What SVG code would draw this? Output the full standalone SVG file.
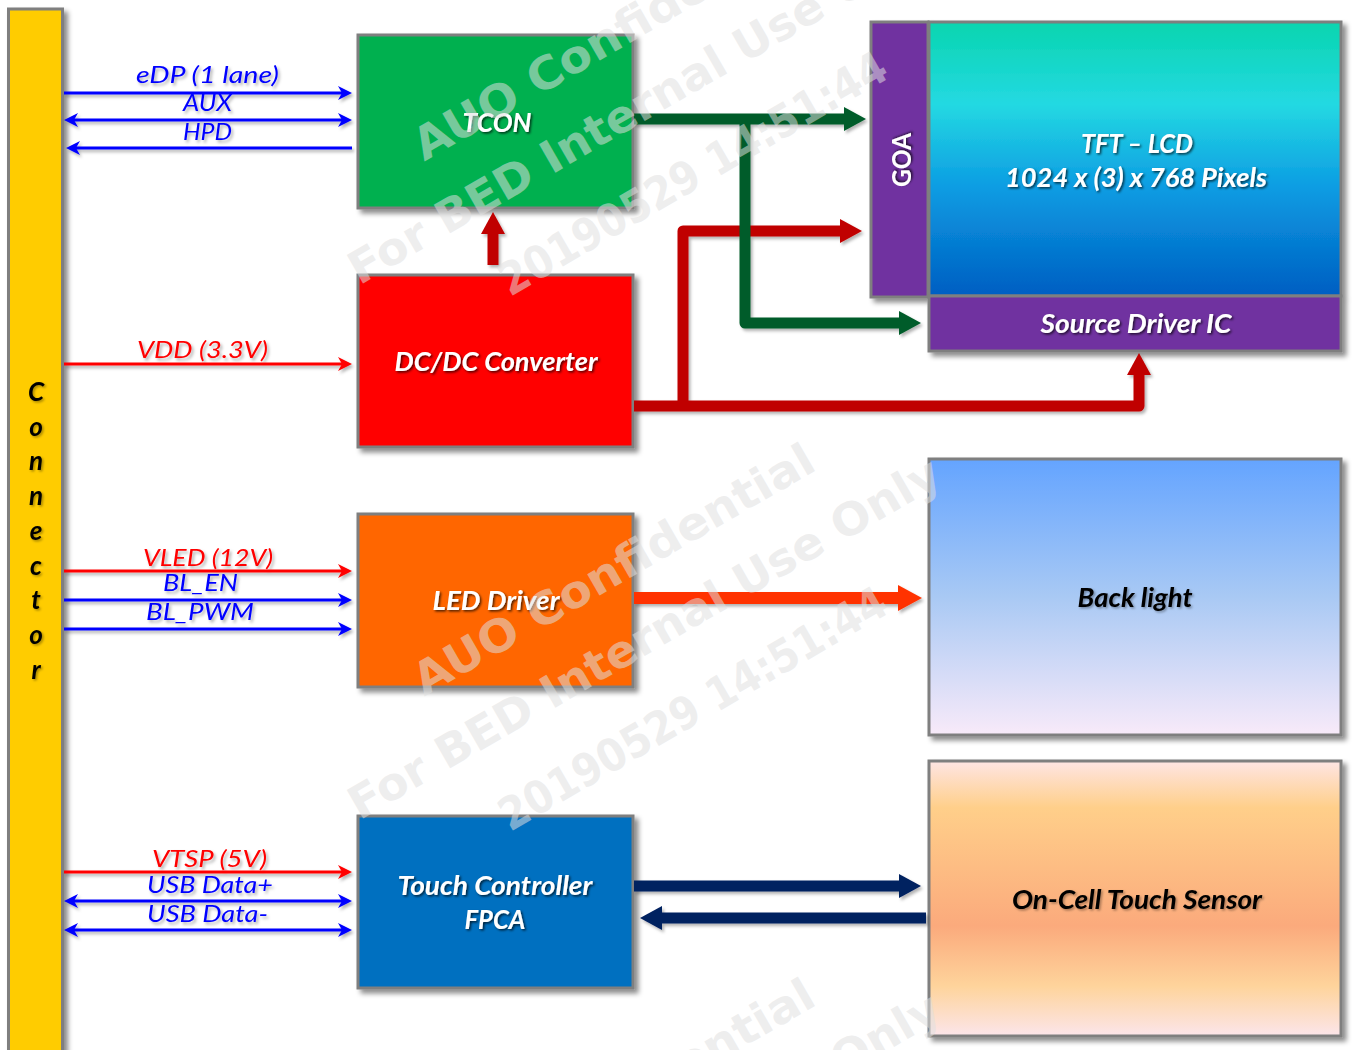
<svg xmlns="http://www.w3.org/2000/svg" width="1355" height="1050" viewBox="0 0 1355 1050">
<style>
.box{stroke:#7F7F7F;stroke-width:3}
.nt{font-family:Lato,"Liberation Sans",sans-serif;font-weight:700;font-style:italic;font-size:26px;fill:#fff;text-anchor:middle}
.bt{font-family:Lato,"Liberation Sans",sans-serif;font-weight:700;font-style:italic;font-size:26px;fill:#000;text-anchor:middle}
.ct{font-family:Lato,"Liberation Sans",sans-serif;font-weight:700;font-style:italic;font-size:26px;fill:#000;text-anchor:middle}
.lb{font-family:Lato,"Liberation Sans",sans-serif;font-style:italic;font-size:24px;fill:#0000FF;text-anchor:middle}
.lr{font-family:Lato,"Liberation Sans",sans-serif;font-style:italic;font-size:24px;fill:#FF0000;text-anchor:middle}
.tb{stroke:#0000FF;stroke-width:3;fill:none}
.tr{stroke:#FF0000;stroke-width:3;fill:none}
.wm{font-family:"DejaVu Sans",sans-serif;font-weight:700;font-size:45px;fill:#E0E0E0;fill-opacity:0.55;text-anchor:middle}
</style>
<defs>
<filter id="sh" x="-10%" y="-10%" width="130%" height="130%"><feDropShadow dx="4" dy="4" stdDeviation="2.5" flood-color="#000" flood-opacity="0.45"/></filter>
<filter id="lsh" x="-10%" y="-50%" width="130%" height="200%"><feDropShadow dx="2" dy="2.5" stdDeviation="1.5" flood-color="#000" flood-opacity="0.3"/></filter>
<filter id="tsh" x="-10%" y="-30%" width="130%" height="160%"><feDropShadow dx="1.5" dy="1.5" stdDeviation="0.8" flood-color="#000" flood-opacity="0.7"/></filter>
<filter id="ksh" x="-10%" y="-30%" width="130%" height="160%"><feDropShadow dx="1.5" dy="1.5" stdDeviation="1" flood-color="#000" flood-opacity="0.35"/></filter>
<linearGradient id="gTFT" x1="0" y1="0" x2="0" y2="1">
<stop offset="0" stop-color="#08D5AF"/><stop offset="0.3" stop-color="#24D9E2"/><stop offset="0.6" stop-color="#0C9DE3"/><stop offset="1" stop-color="#005EC2"/></linearGradient>
<linearGradient id="gBL" x1="0" y1="0" x2="0" y2="1">
<stop offset="0" stop-color="#64A4FF"/><stop offset="0.5" stop-color="#A9C9F4"/><stop offset="1" stop-color="#F8EAF9"/></linearGradient>
<linearGradient id="gOC" x1="0" y1="0" x2="0" y2="1">
<stop offset="0" stop-color="#FEE5E4"/><stop offset="0.17" stop-color="#FFCF8A"/><stop offset="0.6" stop-color="#FBAA7C"/><stop offset="0.82" stop-color="#FED49C"/><stop offset="1" stop-color="#FCE5EA"/></linearGradient>
<marker id="aB" markerUnits="userSpaceOnUse" markerWidth="14" markerHeight="14" viewBox="0 0 14 14" refX="4" refY="7" orient="auto-start-reverse"><path d="M0,0 L14,7 L0,14 L4,7 z" fill="#0000FF"/></marker>
<marker id="aR" markerUnits="userSpaceOnUse" markerWidth="14" markerHeight="14" viewBox="0 0 14 14" refX="4" refY="7" orient="auto-start-reverse"><path d="M0,0 L14,7 L0,14 L4,7 z" fill="#FF0000"/></marker>
<marker id="hG" markerUnits="userSpaceOnUse" markerWidth="22" markerHeight="24" viewBox="0 0 22 24" refX="2" refY="12" orient="auto"><path d="M0,0 L22,12 L0,24 z" fill="#005C2A"/></marker>
<marker id="hR" markerUnits="userSpaceOnUse" markerWidth="22" markerHeight="24" viewBox="0 0 22 24" refX="2" refY="12" orient="auto"><path d="M0,0 L22,12 L0,24 z" fill="#C00000"/></marker>
<marker id="hO" markerUnits="userSpaceOnUse" markerWidth="24" markerHeight="26" viewBox="0 0 24 26" refX="2" refY="13" orient="auto"><path d="M0,0 L24,13 L0,26 z" fill="#FF3300"/></marker>
<marker id="hN" markerUnits="userSpaceOnUse" markerWidth="22" markerHeight="24" viewBox="0 0 22 24" refX="2" refY="12" orient="auto"><path d="M0,0 L22,12 L0,24 z" fill="#002060"/></marker>
</defs>
<rect width="1355" height="1050" fill="#fff"/>

<g id="connector">
<rect class="box" x="8.5" y="9" width="54" height="1060" fill="#FFCC00" filter="url(#sh)"/>
<g filter="url(#ksh)">
<text class="ct" x="36" y="401">C</text>
<text class="ct" x="36" y="436">o</text>
<text class="ct" x="36" y="470">n</text>
<text class="ct" x="36" y="505">n</text>
<text class="ct" x="36" y="540">e</text>
<text class="ct" x="36" y="575">c</text>
<text class="ct" x="36" y="609">t</text>
<text class="ct" x="36" y="644">o</text>
<text class="ct" x="36" y="679">r</text>
</g>
</g>

<g id="tcon">
<rect class="box" x="358" y="35" width="275" height="173" fill="#00B050" filter="url(#sh)"/>
<text class="nt" x="497" y="132" textLength="69" lengthAdjust="spacingAndGlyphs" filter="url(#tsh)">TCON</text>
</g>
<g id="dcdc">
<rect class="box" x="358" y="275" width="275" height="172" fill="#FF0000" filter="url(#sh)"/>
<text class="nt" x="496" y="371" textLength="203" lengthAdjust="spacingAndGlyphs" filter="url(#tsh)">DC/DC Converter</text>
</g>
<g id="led">
<rect class="box" x="358" y="514" width="275" height="173" fill="#FF6600" filter="url(#sh)"/>
<text class="nt" x="496" y="610" textLength="127" lengthAdjust="spacingAndGlyphs" filter="url(#tsh)">LED Driver</text>
</g>
<g id="touch">
<rect class="box" x="358" y="816" width="275" height="172" fill="#0070C0" filter="url(#sh)"/>
<text class="nt" x="495" y="895" textLength="195" lengthAdjust="spacingAndGlyphs" filter="url(#tsh)">Touch Controller</text>
<text class="nt" x="495" y="929" textLength="61" lengthAdjust="spacingAndGlyphs" filter="url(#tsh)">FPCA</text>
</g>

<g id="panel">
<g filter="url(#sh)">
<rect class="box" x="871" y="22" width="57" height="275" fill="#7030A0"/>
<rect class="box" x="929" y="22" width="412" height="274" fill="url(#gTFT)"/>
<rect class="box" x="929" y="296" width="412" height="55" fill="#7030A0"/>
</g>
<text class="nt" x="0" y="0" transform="translate(911,160) rotate(-90)" style="font-style:normal" textLength="54" lengthAdjust="spacingAndGlyphs" filter="url(#tsh)">GOA</text>
<text class="nt" x="1137" y="153" textLength="112" lengthAdjust="spacingAndGlyphs" filter="url(#tsh)">TFT – LCD</text>
<text class="nt" x="1136" y="187" textLength="262" lengthAdjust="spacingAndGlyphs" filter="url(#tsh)">1024 x (3) x 768 Pixels</text>
<text class="nt" x="1136" y="333" textLength="191" lengthAdjust="spacingAndGlyphs" filter="url(#tsh)">Source Driver IC</text>
</g>
<g id="backlight">
<rect class="box" x="929" y="459" width="412" height="276" fill="url(#gBL)" filter="url(#sh)"/>
<text class="bt" x="1135" y="607" textLength="115" lengthAdjust="spacingAndGlyphs" filter="url(#ksh)">Back light</text>
</g>
<g id="sensor">
<rect class="box" x="929" y="761" width="412" height="275" fill="url(#gOC)" filter="url(#sh)"/>
<text class="bt" x="1137" y="909" textLength="250" lengthAdjust="spacingAndGlyphs" filter="url(#ksh)">On-Cell Touch Sensor</text>
</g>

<g id="connectors" filter="url(#lsh)">
<line class="tb" x1="64" y1="93" x2="342" y2="93" marker-end="url(#aB)"/>
<line class="tb" x1="74" y1="120" x2="342" y2="120" marker-start="url(#aB)" marker-end="url(#aB)"/>
<line class="tb" x1="352" y1="148" x2="76" y2="148" marker-end="url(#aB)"/>
<line class="tr" x1="64" y1="364" x2="342" y2="364" marker-end="url(#aR)"/>
<line class="tr" x1="64" y1="571" x2="342" y2="571" marker-end="url(#aR)"/>
<line class="tb" x1="64" y1="600" x2="342" y2="600" marker-end="url(#aB)"/>
<line class="tb" x1="64" y1="629" x2="342" y2="629" marker-end="url(#aB)"/>
<line class="tr" x1="64" y1="872" x2="342" y2="872" marker-end="url(#aR)"/>
<line class="tb" x1="74" y1="901" x2="342" y2="901" marker-start="url(#aB)" marker-end="url(#aB)"/>
<line class="tb" x1="74" y1="930" x2="342" y2="930" marker-start="url(#aB)" marker-end="url(#aB)"/>
<text class="lb" x="207.5" y="83" textLength="143" lengthAdjust="spacingAndGlyphs">eDP (1 lane)</text>
<text class="lb" x="207.5" y="111" textLength="49" lengthAdjust="spacingAndGlyphs">AUX</text>
<text class="lb" x="207.5" y="140" textLength="49" lengthAdjust="spacingAndGlyphs">HPD</text>
<text class="lr" x="202.5" y="358" textLength="131" lengthAdjust="spacingAndGlyphs">VDD (3.3V)</text>
<text class="lr" x="208" y="566" textLength="130" lengthAdjust="spacingAndGlyphs">VLED (12V)</text>
<text class="lb" x="200.5" y="591" textLength="75" lengthAdjust="spacingAndGlyphs">BL_EN</text>
<text class="lb" x="200" y="620" textLength="108" lengthAdjust="spacingAndGlyphs">BL_PWM</text>
<text class="lr" x="209.5" y="867" textLength="115" lengthAdjust="spacingAndGlyphs">VTSP (5V)</text>
<text class="lb" x="210" y="893" textLength="126" lengthAdjust="spacingAndGlyphs">USB Data+</text>
<text class="lb" x="207.5" y="922" textLength="121" lengthAdjust="spacingAndGlyphs">USB Data-</text>

<path d="M493,265 V232" stroke="#C00000" stroke-width="11" fill="none" marker-end="url(#hR)"/>
<path d="M634,406 H1139 V373" stroke="#C00000" stroke-width="11" fill="none" stroke-linejoin="round" marker-end="url(#hR)"/>
<path d="M683,406 V231 H842" stroke="#C00000" stroke-width="11" fill="none" stroke-linejoin="round" marker-end="url(#hR)"/>
<path d="M634,119 H846" stroke="#005C2A" stroke-width="11" fill="none" marker-end="url(#hG)"/>
<path d="M745,119 V323 H901" stroke="#005C2A" stroke-width="11" fill="none" stroke-linejoin="round" marker-end="url(#hG)"/>
<path d="M634,598 H900" stroke="#FF3300" stroke-width="12" fill="none" marker-end="url(#hO)"/>
<path d="M634,886 H901" stroke="#002060" stroke-width="11" fill="none" marker-end="url(#hN)"/>
<path d="M926,918 H660" stroke="#002060" stroke-width="11" fill="none" marker-end="url(#hN)"/>
</g>

<g id="watermark">
<g transform="translate(637,115) rotate(-30)">
<text class="wm" x="20" y="-66" textLength="455" lengthAdjust="spacingAndGlyphs">AUO Confidential</text>
<text class="wm" x="12" y="9" textLength="675" lengthAdjust="spacingAndGlyphs">For BED Internal Use Only</text>
<text class="wm" x="19" y="94" textLength="440" lengthAdjust="spacingAndGlyphs">20190529 14:51:44</text>
</g>
<g transform="translate(637,650) rotate(-30)">
<text class="wm" x="20" y="-66" textLength="455" lengthAdjust="spacingAndGlyphs">AUO Confidential</text>
<text class="wm" x="12" y="9" textLength="675" lengthAdjust="spacingAndGlyphs">For BED Internal Use Only</text>
<text class="wm" x="19" y="94" textLength="440" lengthAdjust="spacingAndGlyphs">20190529 14:51:44</text>
</g>
<g transform="translate(637,1185) rotate(-30)">
<text class="wm" x="20" y="-66" textLength="455" lengthAdjust="spacingAndGlyphs">AUO Confidential</text>
<text class="wm" x="12" y="9" textLength="675" lengthAdjust="spacingAndGlyphs">For BED Internal Use Only</text>
<text class="wm" x="19" y="94" textLength="440" lengthAdjust="spacingAndGlyphs">20190529 14:51:44</text>
</g>
</g>
</svg>
